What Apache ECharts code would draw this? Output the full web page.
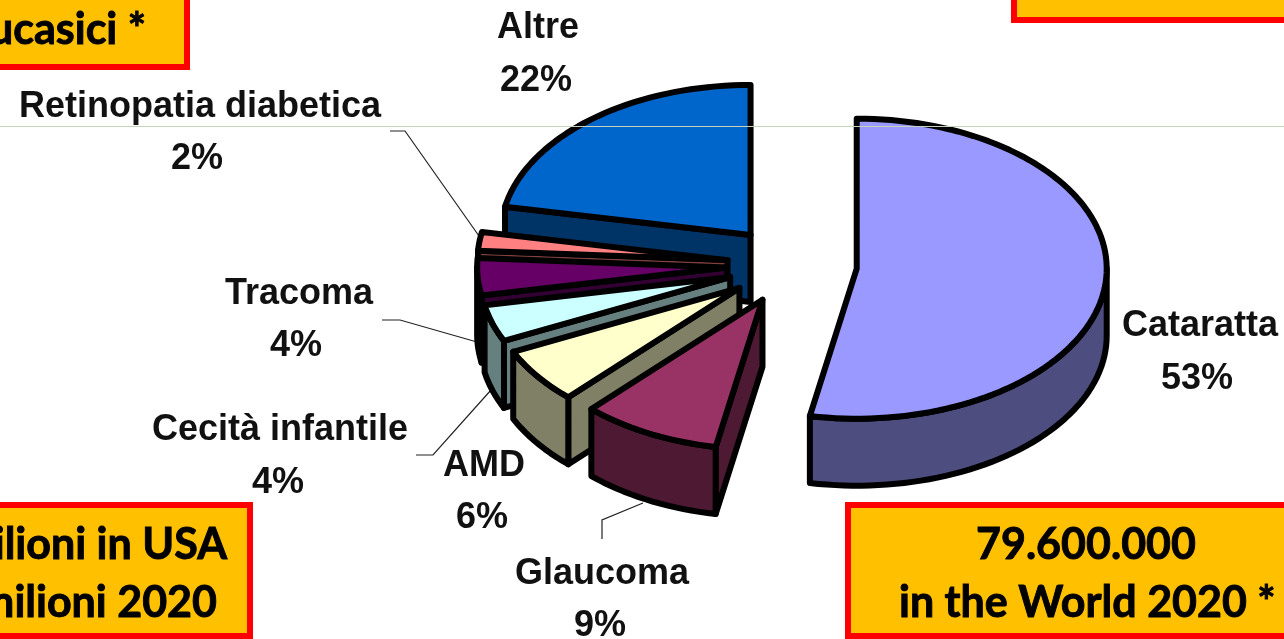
<!DOCTYPE html>
<html>
<head>
<meta charset="utf-8">
<style>html,body{margin:0;padding:0;background:#fff;overflow:hidden}#chart{width:1284px;height:639px}</style>
<script src="https://cdn.jsdelivr.net/npm/echarts@6/dist/echarts.min.js"></script>
</head>
<body>
<div id="chart"></div>
<script>
// Causes of blindness, in pie order clockwise from twelve o'clock.
const categories = ['Cataratta', 'Glaucoma', 'AMD', 'Cecità infantile', 'Tracoma', 'Retinopatia diabetica', 'Altre'];
const shares = [53, 9, 6, 4, 4, 2, 22];
const topColors = ['#9999FF', '#993366', '#FFFFCC', '#CCFFFF', '#660066', '#FF8080', '#0066CC'];
const sideColors = ['#4D4D80', '#4D1933', '#808066', '#668080', '#330033', '#804040', '#003366'];

// Label anchors: [x, y of name, x, y of percentage]
const labelPlaces = [
  [1200, 326, 1197, 379],
  [602, 574, 600, 626],
  [484, 466, 482, 518],
  [280, 430, 278, 483],
  [299, 294, 296, 346],
  [200, 107, 197, 159],
  [538, 28, 536, 81]
];
const leaderLines = [
  [[602, 539], [602, 520], [643, 503]],
  [[416, 455], [433, 455], [491, 390]],
  [[382, 320], [400, 320], [477, 342]],
  [[390, 131], [405, 131], [479, 236]]
];

// Callout boxes
const boxFill = '#FFC000';
const boxRed = '#FF0000';

// Projection of the tilted pie
const CX = 792, CY = 265, RX = 250, RY = 150, DEPTH = 67, EXPLODE = 65;
const RAD = Math.PI / 180;
const total = shares.reduce((a, b) => a + b, 0);
const onPlane = (deg, r) => [Math.sin(deg * RAD) * r, -Math.cos(deg * RAD) * r * RY / RX];

function arcPoints(apex, from, to) {
  const pts = [];
  const n = Math.max(2, Math.ceil((to - from) / 2));
  for (let i = 0; i <= n; i++) {
    const p = onPlane(from + (to - from) * i / n, RX);
    pts.push([apex[0] + p[0], apex[1] + p[1]]);
  }
  return pts;
}
const lowered = pts => pts.map(p => [p[0], p[1] + DEPTH]);

const stroke = { stroke: '#000', lineWidth: 6, lineJoin: 'round' };

function renderSlice(params, api) {
  const i = params.dataIndex;
  let start = 0;
  for (let k = 0; k < i; k++) start += shares[k] / total * 360;
  const end = start + api.value(0) / total * 360;
  const mid = onPlane((start + end) / 2, EXPLODE);
  const apex = [CX + mid[0], CY + mid[1]];
  const order = i === 0 ? 6 : categories.length - 1 - i;
  const base = order * 10 + 1;
  const children = [];
  const poly = (points, fill, z2) => children.push({
    type: 'polygon', z2, shape: { points }, style: Object.assign({ fill }, stroke)
  });

  // Cut wall under the start edge, only for slices lying above that edge
  if (start >= 180) {
    const edge = [apex, arcPoints(apex, start, start + 0.01)[0]];
    poly(edge.concat(lowered(edge).reverse()), sideColors[i], base);
  }
  // Outer rim, visible on the front half
  const rimFrom = Math.max(start, 90), rimTo = Math.min(end, 270);
  if (rimTo > rimFrom) {
    const arc = arcPoints(apex, rimFrom, rimTo);
    poly(arc.concat(lowered(arc).reverse()), sideColors[i], base + 1);
  }
  // Top face
  poly([apex].concat(arcPoints(apex, start, end)), topColors[i], base + 2);

  // Name and percentage
  const place = labelPlaces[i];
  const font = 'bold 36px "Liberation Sans", Arial, sans-serif';
  const label = (text, x, y) => children.push({
    type: 'text', z2: 200,
    style: { text, x, y, font, fill: '#111', align: 'center', verticalAlign: 'middle' }
  });
  label(categories[i], place[0], place[1]);
  label(api.value(0) + '%', place[2], place[3]);
  return { type: 'group', children };
}

const boxFont = 'bold 43px Lato, Carlito, sans-serif';
const box = (x, y, w, h) => ({
  type: 'rect', z: 1, shape: { x, y, width: w, height: h },
  style: { fill: boxFill, stroke: boxRed, lineWidth: 6 }
});
const boxText = (text, x, y, align) => ({
  type: 'text', z: 2,
  style: { text, x, y, font: boxFont, fill: '#000', stroke: '#000', lineWidth: 0.9, align, verticalAlign: 'middle' }
});

const graphics = [
  box(-20, -20, 207, 87),
  box(1014, -20, 300, 40),
  box(-20, 505, 270, 131),
  box(848, 505, 460, 131),
  boxText('Caucasici *', 146, 30, 'right'),
  boxText('milioni in USA', 227, 545, 'right'),
  boxText('milioni 2020', 217, 603, 'right'),
  boxText('79.600.000', 1086, 545, 'center'),
  boxText('in the World 2020 *', 899, 603, 'left')
];
leaderLines.forEach(points => graphics.push({
  type: 'polyline', z: 3, shape: { points }, style: { stroke: '#222', lineWidth: 1.2, fill: null }
}));
// Thin rule running across the slide
graphics.push({
  type: 'line', z: 50, shape: { x1: 0, y1: 126.5, x2: 1284, y2: 126.5 },
  style: { stroke: '#C6D3BA', lineWidth: 1 }
});

const chart = echarts.init(document.getElementById('chart'), null, { renderer: 'canvas' });
chart.setOption({
  backgroundColor: '#fff',
  animation: false,
  graphic: { elements: graphics },
  series: [{
    type: 'custom',
    coordinateSystem: 'none',
    silent: true,
    z: 10,
    renderItem: renderSlice,
    data: shares.map(v => [v])
  }]
});
</script>
</body>
</html>
